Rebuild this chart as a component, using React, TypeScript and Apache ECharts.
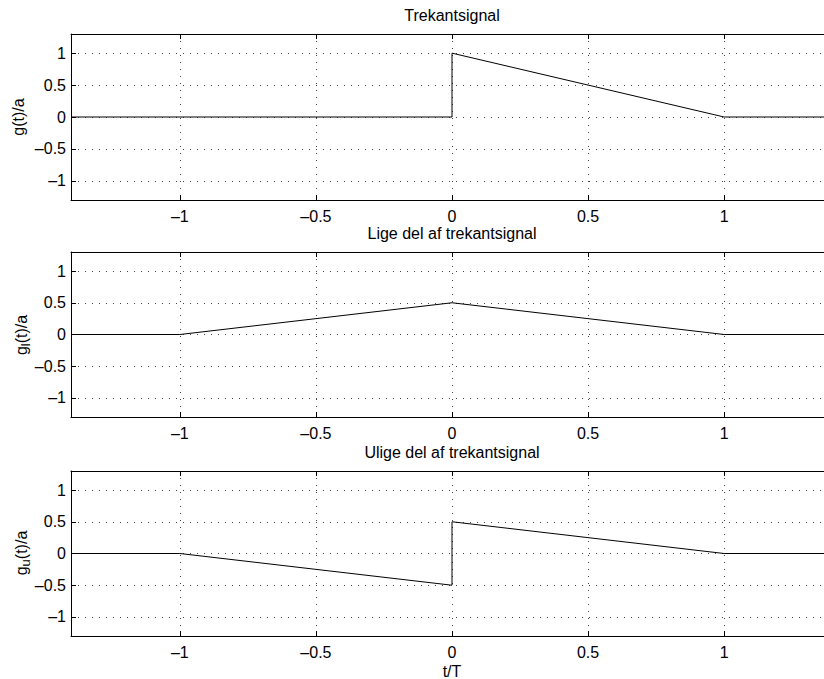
import React, { useEffect, useRef } from "react";
import * as echarts from "echarts";

// Signal breakpoints (t/T, amplitude / a)
const tGrid = [-1.4, 1.4];
const yRange = [-1.3, 1.3];

const gT = [-1.4, 0, 0, 1, 1.4];
const gV = [0, 0, 1, 0, 0];

const glT = [-1.4, -1, 0, 1, 1.4];
const glV = [0, 0, 0.5, 0, 0];

const guT = [-1.4, -1, 0, 0, 1, 1.4];
const guV = [0, 0, -0.5, 0.5, 0, 0];

const titles = ["Trekantsignal", "Lige del af trekantsignal", "Ulige del af trekantsignal"];
const xLabel = "t/T";

const FONT = "'Liberation Sans', Arial, Helvetica, sans-serif";
const FS = 16;

// The canvas is wider than the window so the right end of the axes runs off the edge.
const W = 850;
const H = 679;
const grids = [
  { top: 34, height: 166 },
  { top: 252, height: 165 },
  { top: 471, height: 165 },
];
const LEFT = 71;
const RIGHT = W - 833;

const fmt = (v: number) => String(v).replace("-", "\u2013");

export default function App() {
  const ref = useRef<HTMLDivElement>(null);

  useEffect(() => {
    if (!ref.current) return;
    document.body.style.overflow = "hidden";
    const chart = echarts.init(ref.current, undefined, { renderer: "svg" });

    const pairs = (t: number[], v: number[]) => t.map((x, i) => [x, v[i]]);
    const seriesData = [pairs(gT, gV), pairs(glT, glV), pairs(guT, guV)];

    const xAxes: any[] = [];
    const yAxes: any[] = [];
    grids.forEach((_, i) => {
      xAxes.push({
        type: "value",
        gridIndex: i,
        position: "bottom",
        min: tGrid[0],
        max: tGrid[1],
        splitNumber: 5,
        axisLine: { show: true, onZero: false, lineStyle: { color: "#000", width: 1 } },
        axisTick: { show: true, inside: true, length: 5, lineStyle: { color: "#000" } },
        axisLabel: {
          show: true,
          showMinLabel: false,
          showMaxLabel: false,
          margin: 8,
          color: "#000",
          fontFamily: FONT,
          fontSize: FS,
          formatter: fmt,
        },
        splitLine: { show: true, lineStyle: { color: "#444", type: [1, 6], width: 1 } },
      });
      xAxes.push({
        type: "value",
        gridIndex: i,
        position: "top",
        min: tGrid[0],
        max: tGrid[1],
        splitNumber: 5,
        axisLine: { show: true, onZero: false, lineStyle: { color: "#000", width: 1 } },
        axisTick: { show: true, inside: true, length: 5, lineStyle: { color: "#000" } },
        axisLabel: { show: false },
        splitLine: { show: false },
      });
      yAxes.push({
        type: "value",
        gridIndex: i,
        position: "left",
        min: yRange[0],
        max: yRange[1],
        splitNumber: 5,
        axisLine: { show: true, onZero: false, lineStyle: { color: "#000", width: 1 } },
        axisTick: { show: true, inside: true, length: 5, lineStyle: { color: "#000" } },
        axisLabel: {
          show: true,
          showMinLabel: false,
          showMaxLabel: false,
          margin: 5,
          color: "#000",
          fontFamily: FONT,
          fontSize: FS,
          formatter: fmt,
        },
        splitLine: { show: true, lineStyle: { color: "#444", type: [1, 6], width: 1 } },
      });
    });

    const cx = LEFT + (W - RIGHT - LEFT) / 2;
    const textStyle = (text: string) => ({
      text,
      font: `${FS}px ${FONT}`,
      fill: "#000",
      align: "center",
      verticalAlign: "middle",
    });

    const yLab = (parts: string[], sub: string | null, x: number, y: number) => {
      const rich: any = {
        m: { fontFamily: FONT, fontSize: FS, fill: "#000", verticalAlign: "top", lineHeight: 18 },
        s: {
          fontFamily: FONT,
          fontSize: 13,
          fill: "#000",
          verticalAlign: "top",
          lineHeight: 18,
          padding: [6, 0, 0, 0],
        },
      };
      const text = sub
        ? `{m|${parts[0]}}{s|${sub}}{m|${parts[1]}}`
        : `{m|${parts[0]}${parts[1]}}`;
      return {
        type: "text",
        x,
        y,
        rotation: Math.PI / 2,
        style: { text, rich, align: "center", verticalAlign: "middle", fill: "#000" },
      };
    };

    const graphic: any[] = [
      { type: "text", x: cx, y: 15, style: textStyle(titles[0]) },
      { type: "text", x: cx, y: 233, style: textStyle(titles[1]) },
      { type: "text", x: cx, y: 452, style: textStyle(titles[2]) },
      { type: "text", x: cx, y: 671, style: textStyle(xLabel) },
      yLab(["g", "(t)/a"], null, 19, 117),
      yLab(["g", "(t)/a"], "l", 22, 335),
      yLab(["g", "(t)/a"], "u", 22, 553),
    ];

    chart.setOption({
      animation: false,
      backgroundColor: "#fff",
      grid: grids.map((g) => ({ left: LEFT, right: RIGHT, top: g.top, height: g.height })),
      xAxis: xAxes,
      yAxis: yAxes,
      series: seriesData.map((d, i) => ({
        type: "line",
        xAxisIndex: i * 2,
        yAxisIndex: i,
        data: d,
        showSymbol: false,
        symbol: "none",
        lineStyle: { color: "#000", width: 1 },
        z: 5,
      })),
      graphic,
    });

    return () => chart.dispose();
  }, []);

  return (
    <div
      ref={ref}
      style={{ position: "fixed", left: 0, top: 0, width: W, height: H, background: "#fff" }}
    />
  );
}
